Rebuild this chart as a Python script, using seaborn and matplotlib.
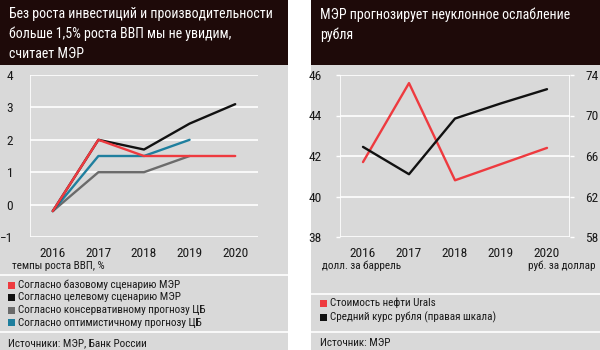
import matplotlib
matplotlib.use("Agg")
import matplotlib.pyplot as plt
from matplotlib.patches import Rectangle
from matplotlib.lines import Line2D
from matplotlib import font_manager
import seaborn as sns
import pandas as pd

sns.set_theme(style="white")
_names = {f.name for f in font_manager.fontManager.ttflist}
_cond = [n for n in ["Roboto Condensed", "Liberation Sans Narrow", "Open Sans Condensed"] if n in _names]
if _cond:
    plt.rcParams['font.family'] = [_cond[0], 'DejaVu Sans']
else:
    plt.rcParams['font.family'] = ['DejaVu Sans']
    plt.rcParams['font.stretch'] = 'condensed'

# ---------------- data ----------------
years = [2016, 2017, 2018, 2019, 2020]
gdp_base = [-0.2, 2.0, 1.5, 1.5, 1.5]          # МЭР базовый
gdp_target = [-0.2, 2.0, 1.7, 2.5, 3.1]        # МЭР целевой
gdp_cons = [-0.2, 1.0, 1.0, 1.5]               # ЦБ консервативный (2016-2019)
gdp_opt = [-0.2, 1.5, 1.5, 2.0]                # ЦБ оптимистичный (2016-2019)
gdp_labels = ["Согласно базовому сценарию МЭР",
              "Согласно целевому сценарию МЭР",
              "Согласно консервативному прогнозу ЦБ",
              "Согласно оптимистичному прогнозу ЦБ"]

oil_urals = [41.7, 45.6, 40.8, 41.6, 42.4]
rub_usd = [66.9, 64.2, 69.7, 71.2, 72.6]
right_labels = ["Стоимость нефти Urals", "Средний курс рубля (правая шкала)"]

left_title = "Без роста инвестиций и производительности\nбольше 1,5% роста ВВП мы не увидим,\nсчитает МЭР"
right_title = "МЭР прогнозирует неуклонное ослабление\nрубля"

# ---------------- style ----------------
W, H = 600, 350
BG = "#d9d9d9"
BAR = "#1e0a09"
TXT = "#1a1a1a"
RED = "#ee3a3f"
BLACK = "#111111"
GRAY = "#6b6b6b"
BLUE = "#1f7f9e"
colors = [RED, BLACK, GRAY, BLUE]
TFS = 10.0  # title font size
FS = 9.6    # tick font size
SFS = 8.0   # small texts

def fx(px):
    return px / W

def fy(py):
    return 1 - py / H

fig = plt.figure(figsize=(6, 3.5), dpi=100)
fig.patch.set_facecolor("white")

# panels
for x0, x1 in [(0, 288), (311, 600)]:
    fig.patches.append(Rectangle((fx(x0), 0), fx(x1 - x0), 1, transform=fig.transFigure,
                                 facecolor=BG, edgecolor="none", zorder=-5))
    fig.patches.append(Rectangle((fx(x0), fy(65)), fx(x1 - x0), 65 / H, transform=fig.transFigure,
                                 facecolor=BAR, edgecolor="none", zorder=-4))

fig.text(fx(9), fy(7), left_title, color="white", fontsize=TFS, va="top", ha="left",
         linespacing=1.5)
fig.text(fx(320), fy(7), right_title, color="white", fontsize=TFS, va="top", ha="left",
         linespacing=1.5)

# separator lines
for (x0, x1, y) in [(0, 288, 275), (0, 288, 332), (311, 600, 294), (311, 600, 332)]:
    fig.add_artist(Line2D([fx(x0), fx(x1)], [fy(y), fy(y)], transform=fig.transFigure,
                          color="white", lw=1.2, zorder=-3))

def style_axes(ax):
    ax.patch.set_alpha(0)
    for s in ax.spines.values():
        s.set_visible(False)
    ax.grid(False)

# ---------------- left chart ----------------
rows = []
for lab, vals in zip(gdp_labels, [gdp_base, gdp_target, gdp_cons, gdp_opt]):
    for y, v in zip(years, vals):
        rows.append({"year": y, "value": v, "scenario": lab})
df_left = pd.DataFrame(rows)

axL = fig.add_axes([fx(30), fy(237), fx(228), 162 / H])
style_axes(axL)
for v in range(-1, 5):
    axL.axhline(v, color="white", lw=1.2, zorder=0)
axL.axvline(2015.5, color="white", lw=1.2, zorder=0)
order_draw = [gdp_labels[2], gdp_labels[3], gdp_labels[1], gdp_labels[0]]
pal = dict(zip(gdp_labels, colors))
for lab in order_draw:
    sns.lineplot(data=df_left[df_left.scenario == lab], x="year", y="value", color=pal[lab],
                 lw=1.7, ax=axL, legend=False)
axL.set_xlim(2015.5, 2020.5)
axL.set_ylim(-1, 4)
axL.set_xticks(years)
axL.set_xticks([2015.5 + i for i in range(6)], minor=True)
axL.set_yticks(range(-1, 5))
axL.tick_params(axis="x", which="major", length=0, pad=7, labelsize=FS, colors=TXT)
axL.tick_params(axis="x", which="minor", length=5, width=1, color="white", direction="out")
axL.tick_params(axis="y", which="major", length=3, width=1, color="white", pad=9,
                labelsize=FS, colors=TXT)
axL.set_xlabel("")
axL.set_ylabel("")
fig.text(fx(12), fy(266), "темпы роста ВВП, %", fontsize=SFS, color=TXT, va="center", ha="left")

# legend left
for i, (lab, c) in enumerate(zip(gdp_labels, colors)):
    yc = 285 + i * 12.5
    fig.patches.append(Rectangle((fx(8), fy(yc + 3.5)), fx(7), 7 / H, transform=fig.transFigure,
                                 facecolor=c, edgecolor="none", zorder=3))
    fig.text(fx(18), fy(yc), lab, fontsize=SFS, color=TXT, va="center", ha="left")
fig.text(fx(8), fy(343), "Источники: МЭР, Банк России", fontsize=SFS, color=TXT,
         va="center", ha="left")

# ---------------- right chart ----------------
df_oil = pd.DataFrame({"year": years, "value": oil_urals})
df_rub = pd.DataFrame({"year": years, "value": rub_usd})

axR = fig.add_axes([fx(340), fy(237), fx(230), 162 / H])
style_axes(axR)
for v in range(38, 47, 2):
    axR.axhline(v, color="white", lw=1.2, zorder=0)
axR.axvline(2015.5, color="white", lw=1.2, zorder=0)
axR.axvline(2020.5, color="white", lw=1.2, zorder=0)
sns.lineplot(data=df_oil, x="year", y="value", color=RED, lw=1.7, ax=axR, legend=False)
axR.set_xlim(2015.5, 2020.5)
axR.set_ylim(38, 46)
axR.set_yticks(range(38, 47, 2))
axR.set_xticks(years)
axR.set_xticks([2015.5 + i for i in range(6)], minor=True)
axR.tick_params(axis="x", which="major", length=0, pad=7, labelsize=FS, colors=TXT)
axR.tick_params(axis="x", which="minor", length=5, width=1, color="white", direction="out")
axR.tick_params(axis="y", which="major", length=3, width=1, color="white", pad=10,
                labelsize=FS, colors=TXT)
axR.set_xlabel("")
axR.set_ylabel("")

axR2 = axR.twinx()
style_axes(axR2)
sns.lineplot(data=df_rub, x="year", y="value", color=BLACK, lw=1.7, ax=axR2, legend=False)
axR2.set_xlim(2015.5, 2020.5)
axR2.set_ylim(58, 74)
axR2.set_yticks(range(58, 75, 4))
axR2.tick_params(axis="y", which="major", length=3, width=1, color="white", pad=8,
                 labelsize=FS, colors=TXT)
axR2.set_xlabel("")
axR2.set_ylabel("")

fig.text(fx(322), fy(266), "долл. за баррель", fontsize=SFS, color=TXT, va="center", ha="left")
fig.text(fx(596), fy(266), "руб. за доллар", fontsize=SFS, color=TXT, va="center", ha="right")

for i, (lab, c) in enumerate(zip(right_labels, [RED, BLACK])):
    yc = 303 + i * 14.5
    fig.patches.append(Rectangle((fx(320), fy(yc + 3.5)), fx(7), 7 / H, transform=fig.transFigure,
                                 facecolor=c, edgecolor="none", zorder=3))
    fig.text(fx(330), fy(yc), lab, fontsize=SFS, color=TXT, va="center", ha="left")
fig.text(fx(320), fy(343), "Источник: МЭР", fontsize=SFS, color=TXT, va="center", ha="left")

fig.savefig("out.png", dpi=100)
